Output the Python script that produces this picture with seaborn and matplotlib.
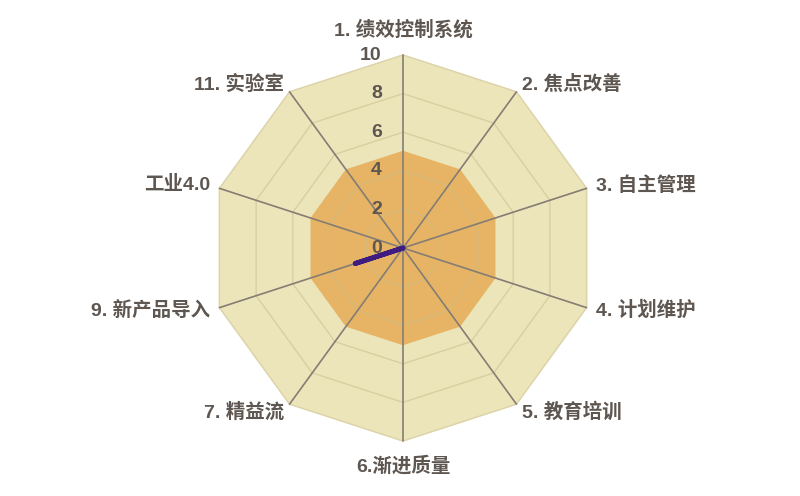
import numpy as np
import matplotlib
matplotlib.use("Agg")
import matplotlib.pyplot as plt
import seaborn as sns

# axis labels, clockwise from the top
labels = ["1. 绩效控制系统", "2. 焦点改善", "3. 自主管理", "4. 计划维护", "5. 教育培训",
          "6.渐进质量", "7. 精益流", "9. 新产品导入", "工业4.0", "11. 实验室"]
target = [5, 5, 5, 5, 5, 5, 5, 5, 5, 5]
actual = [0, 0, 0, 0, 0, 0, 0, 2.6, 0, 0]
max_score = [10, 10, 10, 10, 10, 10, 10, 10, 10, 10]
ticks = [0, 2, 4, 6, 8, 10]

sns.set_style("white")
plt.rcParams['font.family'] = ['Liberation Sans', 'Noto Sans CJK SC', 'DejaVu Sans']

TEXT = "#5E5650"
KHAKI = "#ECE5BA"
ORANGE = "#E6B464"
SPOKE = "#857D74"
GRID = "#C9BC8C"
PURPLE = "#3E1C80"

n = len(labels)
angles = np.pi / 2 - np.arange(n) * 2 * np.pi / n


def to_xy(vals):
    vals = np.asarray(vals, dtype=float)
    x = vals * np.cos(angles)
    y = vals * np.sin(angles)
    return np.append(x, x[0]), np.append(y, y[0])


fig = plt.figure(figsize=(8, 4.96), dpi=100)
ax = fig.add_axes([0, 0, 1, 1])
ax.set_xlim(-403 / 19.3, (800 - 403) / 19.3)
ax.set_ylim(-248 / 19.3, 248 / 19.3)
ax.axis("off")

# background at full score
bx, by = to_xy(max_score)
ax.fill(bx, by, color=KHAKI, zorder=1)
ax.plot(bx, by, color="#DCD3AA", lw=1, zorder=1)

# target area
tx, ty = to_xy(target)
ax.fill(tx, ty, color=ORANGE, zorder=2)

# grid rings
for t in ticks[1:-1]:
    gx, gy = to_xy([t] * n)
    ax.plot(gx, gy, color=GRID, lw=1, alpha=0.55, zorder=3)

# spokes
for a in angles:
    ax.plot([0, 10 * np.cos(a)], [0, 10 * np.sin(a)], color=SPOKE, lw=1.2, zorder=4)

# actual scores
ax_x, ax_y = to_xy(actual)
sns.lineplot(x=ax_x, y=ax_y, sort=False, estimator=None, color=PURPLE, lw=3.5,
             solid_capstyle="round", ax=ax, zorder=5)

# radial tick labels
for t in ticks:
    ax.text(-1.1, t, str(t), ha="right", va="center", fontsize=14,
            fontweight="bold", color=TEXT, zorder=6)

# category labels
for lab, a in zip(labels, angles):
    c, s = np.cos(a), np.sin(a)
    if abs(c) < 1e-6:
        r = 11.3
        ax.text(r * c, r * s, lab, ha="center", va="center", fontsize=14,
                fontweight="bold", color=TEXT)
    else:
        r = 10.5
        ax.text(r * c, r * s, lab, ha="left" if c > 0 else "right", va="center",
                fontsize=14, fontweight="bold", color=TEXT)

fig.savefig("out.png", dpi=100)
